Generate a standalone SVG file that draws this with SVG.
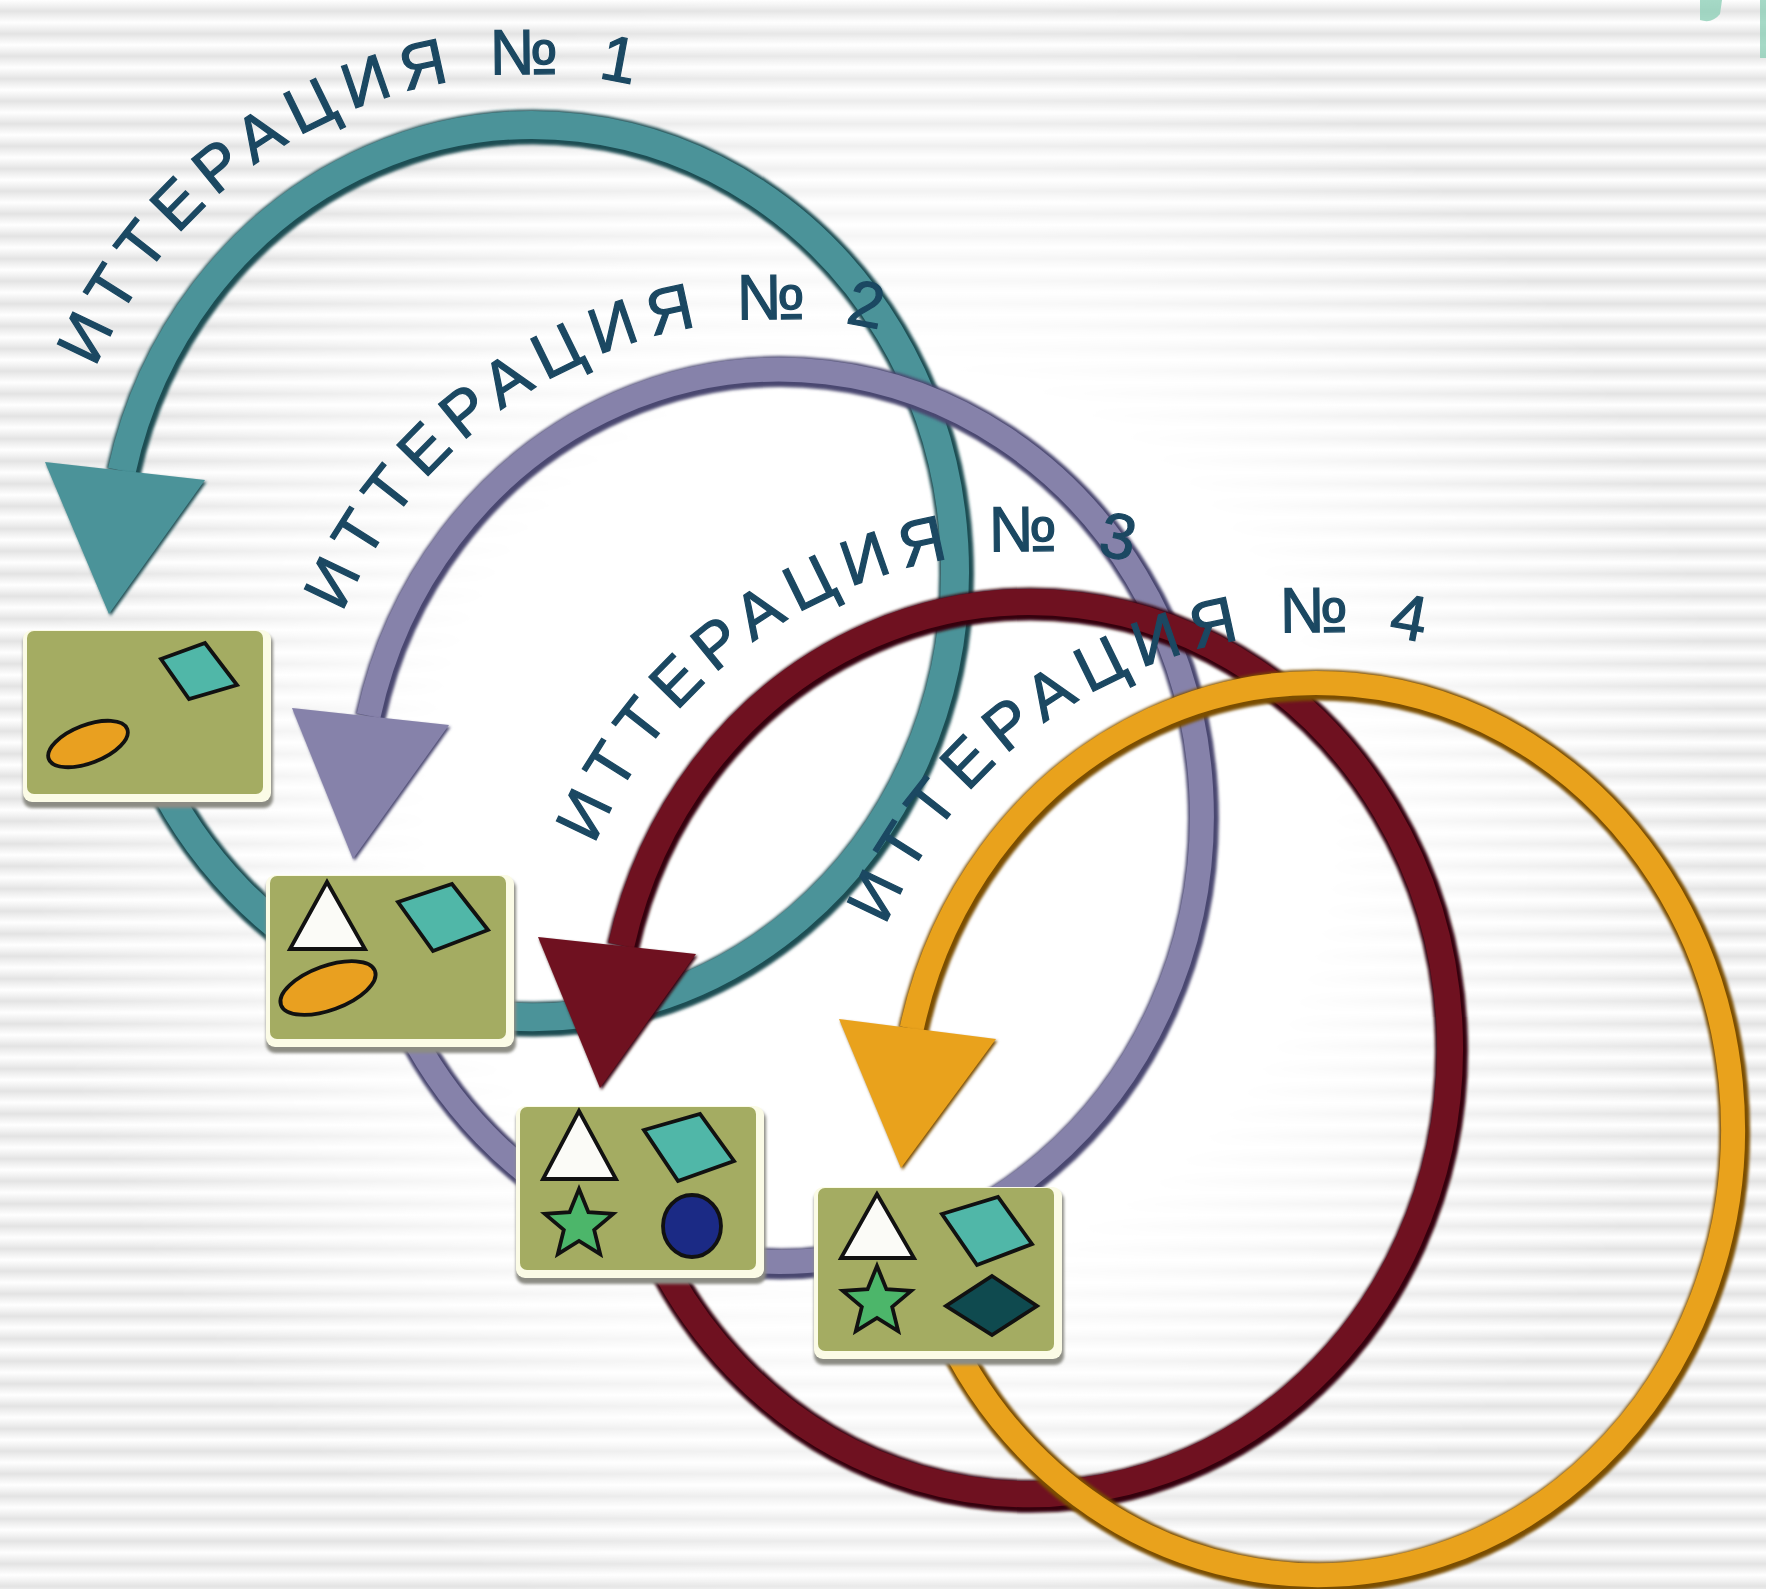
<svg xmlns="http://www.w3.org/2000/svg" xmlns:xlink="http://www.w3.org/1999/xlink" width="1766" height="1589" viewBox="0 0 1766 1589">
<style>
.ring{fill:none}
.sh{fill:none;filter:url(#soft)}
.lbl{font-family:"Liberation Sans",Arial,sans-serif;font-size:64px;fill:#1b4862;stroke:#1b4862;stroke-width:1.2px;letter-spacing:11px}
.frame{fill:#fbfbe6}
.bshadow{fill:#8c8c84;filter:url(#soft)}
.olive{fill:#a4ac62}
.shp{stroke:#111;stroke-width:3.8;stroke-linejoin:miter}
.par{fill:#50b7a8}
.ell{fill:#e9a020}
.tri{fill:#fbfbf7}
.star{fill:#4cb66a}
.navy{fill:#1b2a85}
.dia{fill:#0f4a4f}
</style>
<defs>
<filter id="soft" x="-10%" y="-10%" width="120%" height="120%"><feGaussianBlur stdDeviation="1.6"/></filter>
<linearGradient id="stripeG" x1="0" y1="0" x2="0" y2="1">
<stop offset="0" stop-color="#ffffff"/>
<stop offset="0.5" stop-color="#e3e3e3"/>
<stop offset="1" stop-color="#ffffff"/>
</linearGradient>
<pattern id="stripes" patternUnits="userSpaceOnUse" width="40" height="22.5">
<rect x="0" y="0" width="40" height="22.5" fill="url(#stripeG)"/>
</pattern>
<radialGradient id="fadeG" gradientUnits="userSpaceOnUse" cx="880" cy="820" r="1000">
<stop offset="0" stop-color="#000"/>
<stop offset="0.45" stop-color="#000"/>
<stop offset="0.85" stop-color="#fff"/>
<stop offset="1" stop-color="#fff"/>
</radialGradient>
<mask id="fadeM" maskUnits="userSpaceOnUse" x="0" y="0" width="1766" height="1589">
<rect x="0" y="0" width="1766" height="1589" fill="url(#fadeG)"/>
</mask>
<polygon id="starShape" points="0,-36 9.4,-12.9 34.2,-11.1 15.2,4.9 21.2,29.1 0,16 -21.2,29.1 -15.2,4.9 -34.2,-11.1 -9.4,-12.9"/>
<path id="tp1" d="M95.5,368.1 A474,474 0 0 1 771,137.5"/>
<path id="tp2" d="M342.5,613.1 A474,474 0 0 1 1018,382.5"/>
<path id="tp3" d="M594.5,845.1 A474,474 0 0 1 1270,614.5"/>
<path id="tp4" d="M885.5,926.1 A474,474 0 0 1 1561,695.5"/>
</defs>

<g id="background">
<rect x="0" y="0" width="1766" height="1589" fill="#ffffff"/>
<rect x="0" y="0" width="1766" height="1589" fill="url(#stripes)" mask="url(#fadeM)"/>
<path d="M1700,0 L1722,0 L1720,14 Q1712,24 1700,20 Z" fill="#8fd0b8" opacity="0.8"/>
<rect x="1760" y="0" width="6" height="58" fill="#8fd0b8" opacity="0.8"/>
</g>

<g id="connectors">
<g id="ring1">
<path class="sh" d="M136.4,723.5 A422,446 0 1 0 121.8,470.7" stroke="#1f4d53" stroke-width="35" transform="translate(1.5,2)"/>
<path class="ring" d="M136.4,723.5 A422,446 0 1 0 121.8,470.7" stroke="#4b9399" stroke-width="28"/>
<polygon points="45,462 205,480 109,614" fill="#1f4d53" filter="url(#soft)" transform="translate(1.5,2)"/>
<polygon points="45,462 205,480 109,614" fill="#4b9399"/>
</g>
<g id="ring2">
<path class="sh" d="M383.4,968.5 A422,446 0 1 0 368.6,715.7" stroke="#4a4670" stroke-width="31" transform="translate(1.5,2)"/>
<path class="ring" d="M383.4,968.5 A422,446 0 1 0 368.6,715.7" stroke="#8682aa" stroke-width="24"/>
<polygon points="292,708 449,725 353,859" fill="#4a4670" filter="url(#soft)" transform="translate(1.5,2)"/>
<polygon points="292,708 449,725 353,859" fill="#8682aa"/>
</g>
<g id="ring3">
<path class="sh" d="M635.3,1200.5 A420,446 0 1 0 621.3,945.4" stroke="#35050e" stroke-width="33" transform="translate(1.5,2)"/>
<path class="ring" d="M635.3,1200.5 A420,446 0 1 0 621.3,945.4" stroke="#6f1120" stroke-width="26"/>
<polygon points="538,937 696,954 600,1088" fill="#35050e" filter="url(#soft)" transform="translate(1.5,2)"/>
<polygon points="538,937 696,954 600,1088" fill="#6f1120"/>
</g>
<g id="ring4">
<path class="sh" d="M940,1317.5 A416,446 0 1 0 911.7,1028.7" stroke="#7a4d05" stroke-width="31" transform="translate(1.5,2)"/>
<path class="ring" d="M940,1317.5 A416,446 0 1 0 911.7,1028.7" stroke="#e9a21c" stroke-width="24"/>
<polygon points="839,1019 996,1039 901,1168" fill="#7a4d05" filter="url(#soft)" transform="translate(1.5,2)"/>
<polygon points="839,1019 996,1039 901,1168" fill="#e9a21c"/>
</g>
</g>

<g id="box1" transform="translate(27,631)">
<rect class="bshadow" x="-4" y="3" width="250" height="174" rx="9"/>
<rect class="frame" x="-4" y="-1" width="248" height="172" rx="9"/>
<rect class="olive" x="0" y="0" width="236" height="163" rx="7"/>
<polygon class="shp par" points="134,28 178,12 210,54 162,68"/>
<ellipse class="shp ell" cx="61" cy="113" rx="42" ry="19" transform="rotate(-21 61 113)"/>
</g>

<g id="box2" transform="translate(270,876)">
<rect class="bshadow" x="-4" y="3" width="250" height="174" rx="9"/>
<rect class="frame" x="-4" y="-1" width="248" height="172" rx="9"/>
<rect class="olive" x="0" y="0" width="236" height="163" rx="7"/>
<polygon class="shp tri" points="57,6 20,73 95,73"/>
<polygon class="shp par" points="128,26 182,8 218,54 163,75"/>
<ellipse class="shp ell" cx="58" cy="112" rx="50" ry="22" transform="rotate(-20 58 112)"/>
</g>

<g id="box3" transform="translate(520,1107)">
<rect class="bshadow" x="-4" y="3" width="250" height="174" rx="9"/>
<rect class="frame" x="-4" y="-1" width="248" height="172" rx="9"/>
<rect class="olive" x="0" y="0" width="236" height="163" rx="7"/>
<polygon class="shp tri" points="59,4 23,72 96,72"/>
<polygon class="shp par" points="124,23 180,7 214,54 158,74"/>
<use href="#starShape" class="shp star" transform="translate(59,118)"/>
<ellipse class="shp navy" cx="172" cy="119" rx="29" ry="31"/>
</g>

<g id="box4" transform="translate(818,1188)">
<rect class="bshadow" x="-4" y="3" width="250" height="174" rx="9"/>
<rect class="frame" x="-4" y="-1" width="248" height="172" rx="9"/>
<rect class="olive" x="0" y="0" width="236" height="163" rx="7"/>
<polygon class="shp tri" points="59,6 23,70 96,70"/>
<polygon class="shp par" points="124,26 180,9 214,56 159,77"/>
<use href="#starShape" class="shp star" transform="translate(59,114)"/>
<polygon class="shp dia" points="174,88 219,118 174,147 128,118"/>
</g>

<g id="labels">
<text class="lbl"><textPath href="#tp1">ИТТЕРАЦИЯ № 1</textPath></text>
<text class="lbl"><textPath href="#tp2">ИТТЕРАЦИЯ № 2</textPath></text>
<text class="lbl"><textPath href="#tp3">ИТТЕРАЦИЯ № 3</textPath></text>
<text class="lbl"><textPath href="#tp4">ИТТЕРАЦИЯ № 4</textPath></text>
</g>
</svg>
